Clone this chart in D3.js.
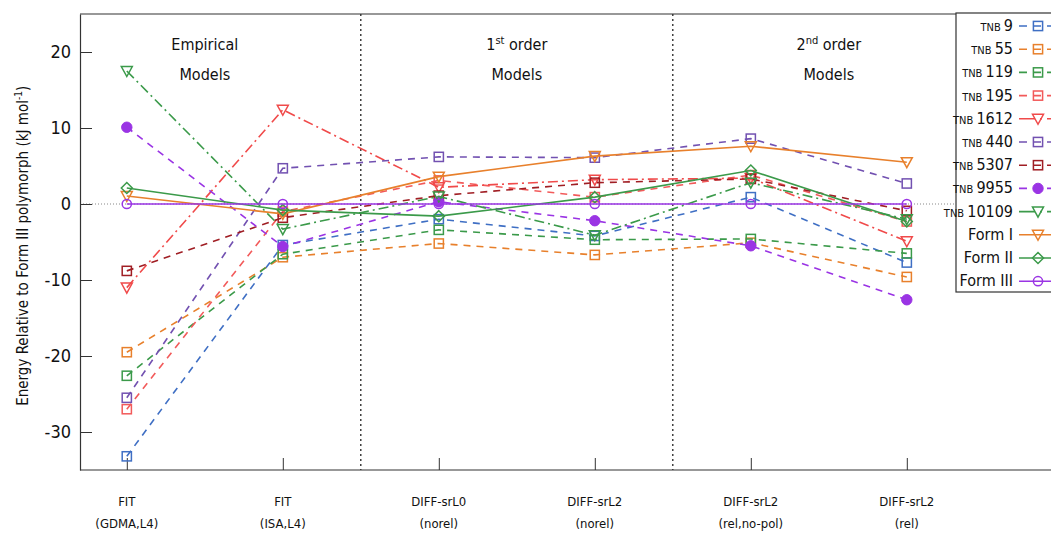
<!DOCTYPE html>
<html>
<head>
<meta charset="utf-8">
<script src="https://cdn.jsdelivr.net/npm/d3@7"></script>
<style>
  body { margin: 0; background: #fff; }
  svg { display: block; }
  text { font-family: "DejaVu Sans Condensed", "DejaVu Sans", sans-serif; font-stretch: condensed; fill: #111; }
</style>
</head>
<body>
<svg id="chart" width="1051" height="533"></svg>
<script>
// categories (two-line tick labels)
var catTop = ["FIT", "FIT", "DIFF-srL0", "DIFF-srL2", "DIFF-srL2", "DIFF-srL2"];
var catBottom = ["(GDMA,L4)", "(ISA,L4)", "(norel)", "(norel)", "(rel,no-pol)", "(rel)"];
var yTicks = [20, 10, 0, -10, -20, -30];

// series values, kJ/mol relative to Form III
var tnb9     = [-33.2, -5.4, -2.0, -4.2, 0.9, -7.7];
var tnb55    = [-19.5, -7.0, -5.2, -6.7, -5.1, -9.6];
var tnb119   = [-22.6, -6.6, -3.4, -4.7, -4.6, -6.5];
var tnb195   = [-27.0, -1.0, 3.1, 0.9, 3.8, -2.3];
var tnb1612  = [-11.0, 12.4, 2.2, 3.2, 3.4, -4.9];
var tnb440   = [-25.5, 4.7, 6.2, 6.1, 8.6, 2.7];
var tnb5307  = [-8.8, -1.8, 1.1, 2.8, 3.3, -0.9];
var tnb9955  = [10.1, -5.6, 0.3, -2.2, -5.5, -12.6];
var tnb10109 = [17.5, -3.3, 1.0, -4.1, 2.8, -2.0];
var formI    = [1.05, -1.3, 3.6, 6.3, 7.6, 5.5];
var formII   = [2.1, -0.8, -1.6, 0.9, 4.4, -2.3];
var formIII  = [0, 0, 0, 0, 0, 0];

(function () {
var series = [
  {tnb: true,  name: "9",     values: tnb9,     color: "#3f6fc4", dash: "7,6",        marker: "square"},
  {tnb: true,  name: "55",    values: tnb55,    color: "#e8802c", dash: "7,6",        marker: "square"},
  {tnb: true,  name: "119",   values: tnb119,   color: "#3b9a4a", dash: "7,6",        marker: "square"},
  {tnb: true,  name: "195",   values: tnb195,   color: "#f25a5a", dash: "7,6",        marker: "square"},
  {tnb: true,  name: "1612",  values: tnb1612,  color: "#f04a4a", dash: "10,4,2,4",   marker: "tri"},
  {tnb: true,  name: "440",   values: tnb440,   color: "#7251b1", dash: "7,6",        marker: "square"},
  {tnb: true,  name: "5307",  values: tnb5307,  color: "#a01e24", dash: "7,6",        marker: "square"},
  {tnb: true,  name: "9955",  values: tnb9955,  color: "#9a34e4", dash: "7,6",        marker: "dot"},
  {tnb: true,  name: "10109", values: tnb10109, color: "#3b9a4a", dash: "10,4,2,4",   marker: "tri"},
  {tnb: false, name: "Form I",   values: formI,   color: "#e8802c", dash: null, marker: "tri"},
  {tnb: false, name: "Form II",  values: formII,  color: "#3b9a4a", dash: null, marker: "diamond"},
  {tnb: false, name: "Form III", values: formIII, color: "#9a34e4", dash: null, marker: "circle"}
];

var svg = d3.select("#chart");
var pl = 80, pt = 14, pb = 470, pr = 1051;

var x = d3.scaleLinear().domain([-0.3, 6]).range([pl, pl + 6.3 * 156]);
var y = d3.scaleLinear().domain([-35, 25]).range([pb, pt]);

// zero line
svg.append("line")
  .attr("x1", pl).attr("x2", pr)
  .attr("y1", y(0)).attr("y2", y(0))
  .attr("stroke", "#888").attr("stroke-width", 1)
  .attr("stroke-dasharray", "1,2");

// region dividers
[1.5, 3.5].forEach(function (d) {
  svg.append("line")
    .attr("x1", x(d)).attr("x2", x(d))
    .attr("y1", pt).attr("y2", pb)
    .attr("stroke", "#222").attr("stroke-width", 1.3)
    .attr("stroke-dasharray", "2,3");
});

// frame top
svg.append("line")
  .attr("x1", pl).attr("x2", pr)
  .attr("y1", pt).attr("y2", pt)
  .attr("stroke", "#333").attr("stroke-width", 1.2);

// y axis
var yAxis = svg.append("g")
  .attr("transform", "translate(" + pl + ",0)")
  .call(d3.axisLeft(y).tickValues(yTicks).tickSizeInner(-12).tickSizeOuter(0).tickPadding(9)
    .tickFormat(function (d) { return String(d); }));
yAxis.select(".domain").attr("stroke", "#333").attr("stroke-width", 1.2);
yAxis.selectAll(".tick line").attr("stroke", "#333");
yAxis.selectAll("text")
  .style("font-size", "18px")
  .style("font-family", "'DejaVu Sans Condensed', 'DejaVu Sans', sans-serif")
  .style("font-stretch", "condensed")
  .attr("fill", "#111");

// x axis
var xAxis = svg.append("g")
  .attr("transform", "translate(0," + pb + ")")
  .call(d3.axisBottom(x).tickValues(d3.range(catTop.length)).tickSizeInner(-12).tickSizeOuter(0).tickFormat(""));
xAxis.select(".domain").attr("d", "M" + pl + ",0H" + pr).attr("stroke", "#333").attr("stroke-width", 1.2);
xAxis.selectAll(".tick line").attr("stroke", "#333");

catTop.forEach(function (c, i) {
  svg.append("text").attr("x", x(i)).attr("y", 506)
    .attr("text-anchor", "middle").style("font-size", "13px").text(c);
  svg.append("text").attr("x", x(i)).attr("y", 528)
    .attr("text-anchor", "middle").style("font-size", "13px").text(catBottom[i]);
});

// y axis title
var yt = svg.append("text")
  .attr("transform", "translate(28," + y(-5.5) + ") rotate(-90)")
  .attr("text-anchor", "middle")
  .style("font-size", "15px");
yt.append("tspan").text("Energy Relative to Form III polymorph (kJ mol");
yt.append("tspan").attr("dy", -6).style("font-size", "10px").text("-1");
yt.append("tspan").attr("dy", 6).text(")");

// region annotations
function note(cx, line1, sup, rest) {
  var t = svg.append("text").attr("x", cx).attr("y", 50)
    .attr("text-anchor", "middle").style("font-size", "16px");
  t.append("tspan").text(line1);
  if (sup) {
    t.append("tspan").attr("dy", -6).style("font-size", "11px").text(sup);
    t.append("tspan").attr("dy", 6).text(rest);
  }
  svg.append("text").attr("x", cx).attr("y", 80)
    .attr("text-anchor", "middle").style("font-size", "16px").text("Models");
}
note(x(0.5), "Empirical");
note(x(2.5), "1", "st", " order");
note(x(4.5), "2", "nd", " order");

// markers
function drawMarker(g, kind, cx, cy, color) {
  var s = 4.6;
  if (kind === "square") {
    g.append("rect").attr("x", cx - s).attr("y", cy - s).attr("width", 2 * s).attr("height", 2 * s)
      .attr("fill", "none").attr("stroke", color).attr("stroke-width", 1.5);
  } else if (kind === "tri") {
    g.append("path").attr("d", "M" + (cx - 5.5) + "," + (cy - 4.5) + "L" + (cx + 5.5) + "," + (cy - 4.5) + "L" + cx + "," + (cy + 5.5) + "Z")
      .attr("fill", "none").attr("stroke", color).attr("stroke-width", 1.5);
  } else if (kind === "diamond") {
    g.append("path").attr("d", "M" + cx + "," + (cy - 5.5) + "L" + (cx + 5.5) + "," + cy + "L" + cx + "," + (cy + 5.5) + "L" + (cx - 5.5) + "," + cy + "Z")
      .attr("fill", "none").attr("stroke", color).attr("stroke-width", 1.5);
  } else if (kind === "circle") {
    g.append("circle").attr("cx", cx).attr("cy", cy).attr("r", 4.6)
      .attr("fill", "none").attr("stroke", color).attr("stroke-width", 1.5);
  } else if (kind === "dot") {
    g.append("path").attr("d", d3.symbol().type(d3.symbolCircle).size(85)())
      .attr("transform", "translate(" + cx + "," + cy + ")")
      .attr("fill", color).attr("stroke", color);
  }
}

var line = d3.line().x(function (d, i) { return x(i); }).y(function (d) { return y(d); });

series.forEach(function (s) {
  var g = svg.append("g");
  g.append("path").datum(s.values).attr("d", line)
    .attr("fill", "none").attr("stroke", s.color).attr("stroke-width", 1.6)
    .attr("stroke-dasharray", s.dash);
  s.values.forEach(function (v, i) { drawMarker(g, s.marker, x(i), y(v), s.color); });
});

// legend
var lg = svg.append("g");
lg.append("rect").attr("x", 956).attr("y", 13).attr("width", 120).attr("height", 279)
  .attr("fill", "#fff").attr("stroke", "#333").attr("stroke-width", 1.2);
series.forEach(function (s, i) {
  var ly = 26 + i * 23.2;
  var t = lg.append("text").attr("x", 1013).attr("y", ly + 5).attr("text-anchor", "end")
    .style("font-size", "16px");
  if (s.tnb) {
    t.append("tspan").style("font-size", "11px").text("TNB ");
    t.append("tspan").text(s.name);
  } else {
    t.text(s.name);
  }
  lg.append("line").attr("x1", 1019).attr("x2", 1058).attr("y1", ly).attr("y2", ly)
    .attr("stroke", s.color).attr("stroke-width", 1.6)
    .attr("stroke-dasharray", s.dash ? (s.dash === "7,6" ? "8,6" : "16,5,2,5") : null);
  drawMarker(lg, s.marker, 1038, ly, s.color);
});
})();
</script>
</body>
</html>
